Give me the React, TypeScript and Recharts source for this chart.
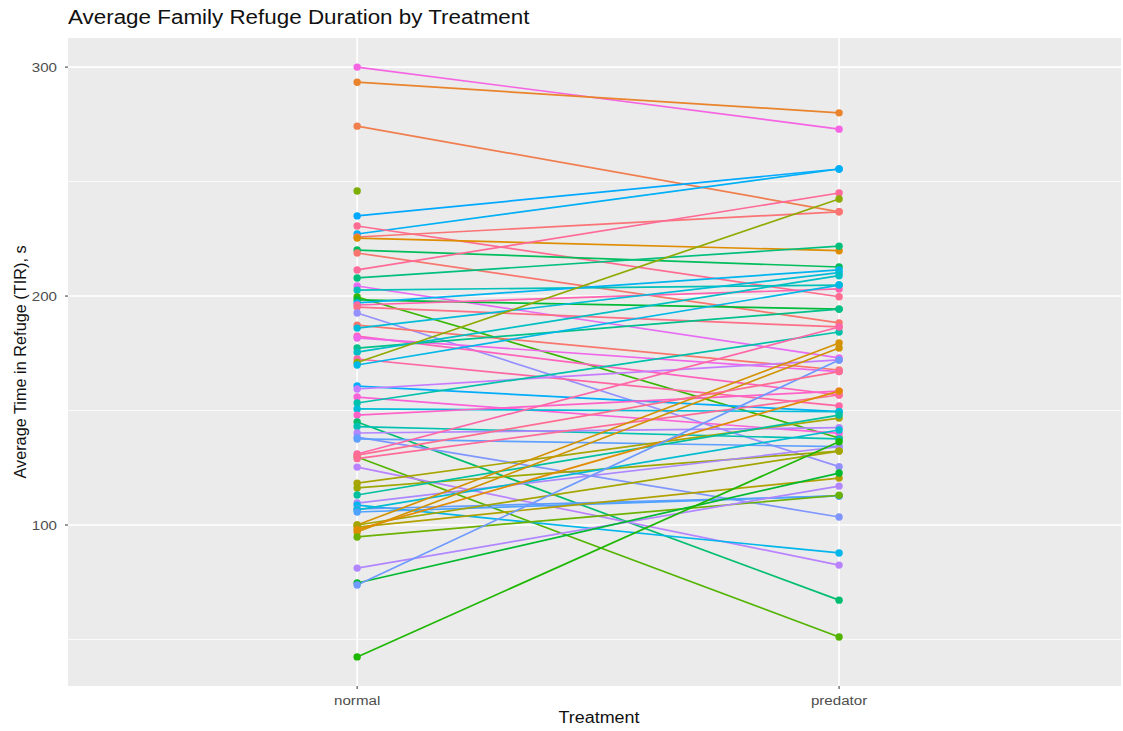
import React from 'react'
import { LineChart, Line, XAxis, YAxis, ReferenceArea, ReferenceLine } from 'recharts'

// one entry per family: mean TIR under the normal and the predator treatment
const normalTIR = [
  300.0, 293.4, 274.2, 245.9, 235.0, 227.1, 230.6, 225.8, 225.3, 220.1,
  218.8, 211.4, 207.9, 204.4, 202.6, 199.6, 198.3, 197.0, 196.1, 195.2,
  192.6, 187.3, 186.0, 182.5, 181.7, 177.3, 175.5, 172.5, 171.0, 169.9,
  160.7, 159.4, 155.9, 153.3, 150.7, 148.0, 145.0, 143.0, 140.2, 138.4,
  137.6, 131.0, 129.7, 129.0, 125.3, 118.3, 116.2, 113.1, 109.6, 108.7,
  107.0, 106.6, 105.7, 100.0, 99.1, 100.0, 97.0, 98.0, 94.8, 81.2,
  74.7, 73.8, 42.4, 130.5,
]

const predatorTIR: (number | null)[] = [
  272.9, 280.0, 236.8, null, 255.5, 255.5, 199.7, 236.8, 219.8, 212.7,
  188.3, 245.0, 221.8, 173.0, 204.8, 138.0, 194.3, 211.4, 203.1, 186.5,
  125.5, 167.7, 210.2, 156.8, 167.0, 194.3, 208.9, 152.0, 242.4, 204.8,
  149.5, 172.1, 140.0, 184.3, 149.5, 158.5, 67.2, 137.6, 142.5, 103.5,
  134.2, 186.5, 51.1, 156.8, 82.5, 146.7, 132.3, 148.0, 134.2, 87.8,
  112.7, 141.5, 112.7, 179.5, 120.5, 132.3, 177.3, 158.5, 113.0, 117.0,
  122.7, 172.1, 136.4, 167.0,
]

const familyColors = [
  '#F564E3', '#E9842C', '#F07E4F', '#7CAE00', '#00A9FF', '#00B0F6', '#FF6C91', '#FA7476', '#DE8C00', '#00BD5C',
  '#F8766D', '#FF6A98', '#00BF7D', '#E76BF3', '#00C0B8', '#39B600', '#00BA38', '#00B4EF', '#FF64B0', '#FD6F86',
  '#9590FF', '#F8766D', '#00BCD8', '#FF62BC', '#F066EA', '#00C08B', '#00BFC4', '#FF67A4', '#8FAA00', '#00B8E7',
  '#00ADFA', '#C77CFF', '#FA62D8', '#00C1AA', '#00BCD6', '#FF61C9', '#00BE70', '#00C0B2', '#B385FF', '#7F96FF',
  '#5DA0FF', '#FF66A8', '#53B400', '#FF6C9A', '#B983FF', '#A8A400', '#9DA700', '#00C19F', '#AC88FF', '#00B6EB',
  '#619CFF', '#00BCD1', '#4FA3FF', '#D49200', '#B0A100', '#A3A500', '#CF9400', '#E08B00', '#6BB100', '#B186FF',
  '#00B92F', '#6E99FF', '#1DB700', '#FF6C91',
]

const treatments = ['normal', 'predator']
const yTicks = [100, 200, 300]
const yMinor = [50, 150, 250]

const data = treatments.map((t, ti) => {
  const row: Record<string, number | null> = { x: ti + 1 }
  normalTIR.forEach((v, i) => {
    row[`f${i}`] = ti === 0 ? v : predatorTIR[i]
  })
  return row
})

const FONT = '"Liberation Sans", Arial, sans-serif'
const X_DOMAIN: [number, number] = [0.4, 2.585]
const Y_DOMAIN: [number, number] = [29.7, 312.7]
const STRETCH = 1.12 // the reference text is a little wide

const XTick = ({ x, y, payload }: any) => (
  <text
    x={0}
    y={0}
    transform={`translate(${x},${y + 4}) scale(${STRETCH},1)`}
    textAnchor="middle"
    dominantBaseline="hanging"
    fill="#4D4D4D"
    fontSize={13.5}
    fontFamily={FONT}
  >
    {treatments[payload.value - 1]}
  </text>
)

const YTick = ({ x, y, payload }: any) => (
  <text
    x={0}
    y={0}
    transform={`translate(${x - 6},${y}) scale(${STRETCH},1)`}
    textAnchor="end"
    dominantBaseline="central"
    fill="#4D4D4D"
    fontSize={13.5}
    fontFamily={FONT}
  >
    {payload.value}
  </text>
)

export default function App() {
  return (
    <div style={{ position: 'absolute', left: 0, top: 0, width: 1123, height: 731, background: '#fff', fontFamily: FONT }}>
      <div
        style={{
          position: 'absolute', left: 68, top: 6, fontSize: 20, color: '#111', whiteSpace: 'nowrap',
          transform: `scaleX(${STRETCH})`, transformOrigin: 'left top',
        }}
      >
        Average Family Refuge Duration by Treatment
      </div>
      <div
        style={{
          position: 'absolute', left: 20, top: 362, fontSize: 16.3, color: '#111', whiteSpace: 'nowrap',
          transform: 'translate(-50%, -50%) rotate(-90deg)',
        }}
      >
        Average Time in Refuge (TIR), s
      </div>
      <div
        style={{
          position: 'absolute', left: 599, top: 718, fontSize: 16, color: '#111', whiteSpace: 'nowrap',
          transform: `translate(-50%, -50%) scaleX(${STRETCH})`,
        }}
      >
        Treatment
      </div>
      <LineChart width={1123} height={731} data={data} margin={{ top: 38, right: 2, bottom: 0, left: 0 }}>
        <ReferenceArea x1={X_DOMAIN[0]} x2={X_DOMAIN[1]} y1={Y_DOMAIN[0]} y2={Y_DOMAIN[1]} fill="#EBEBEB" fillOpacity={1} stroke="none" />
        {yMinor.map(v => (
          <ReferenceLine key={`m${v}`} y={v} stroke="#fff" strokeWidth={0.8} />
        ))}
        {yTicks.map(v => (
          <ReferenceLine key={`M${v}`} y={v} stroke="#fff" strokeWidth={1.6} />
        ))}
        {[1, 2].map(v => (
          <ReferenceLine key={`v${v}`} x={v} stroke="#fff" strokeWidth={1.6} />
        ))}
        <XAxis
          type="number"
          dataKey="x"
          domain={X_DOMAIN}
          ticks={[1, 2]}
          height={45}
          axisLine={false}
          tickSize={3}
          tickLine={{ stroke: '#333' }}
          tick={<XTick />}
          allowDataOverflow
        />
        <YAxis
          type="number"
          domain={Y_DOMAIN}
          ticks={yTicks}
          width={68}
          axisLine={false}
          tickSize={3}
          tickLine={{ stroke: '#333' }}
          tick={<YTick />}
          allowDataOverflow
        />
        {normalTIR.map((_, i) => (
          <Line
            key={i}
            type="linear"
            dataKey={`f${i}`}
            stroke={familyColors[i]}
            strokeWidth={1.7}
            dot={{ r: 3.7, fill: familyColors[i], stroke: 'none' }}
            activeDot={false}
            isAnimationActive={false}
          />
        ))}
      </LineChart>
    </div>
  )
}
